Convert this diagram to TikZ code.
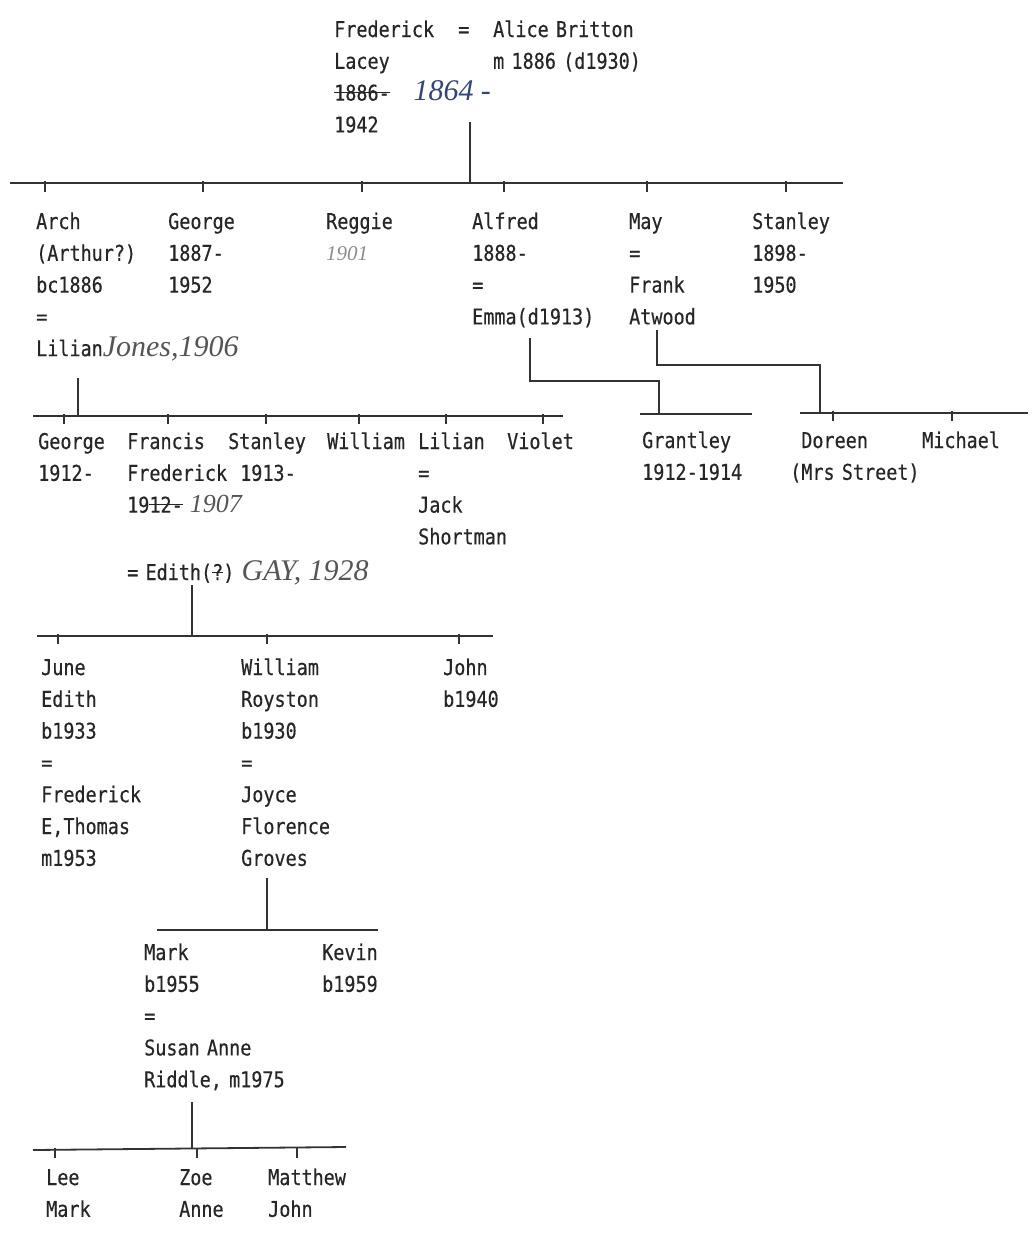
\documentclass[tikz,border=0pt]{standalone}
\usepackage{fontspec}
\usepackage{xcolor}
\usetikzlibrary{calc}

\newfontfamily\dotmono[FakeStretch=0.85, FakeBold=0.4]{DejaVu Sans Mono}
\newfontfamily\inkfont{Liberation Serif}
\definecolor{ink}{HTML}{555555}
\definecolor{blueink}{HTML}{34457A}
\newcommand{\handnote}[3][ink]{{\inkfont\itshape\fontsize{#2}{#2}\selectfont\color{#1}#3}}
\newsavebox\strikebox
\newcommand{\struck}[1]{\leavevmode\sbox\strikebox{#1}\rlap{\usebox\strikebox}\rule[0.6ex]{\wd\strikebox}{1.2pt}}

\begin{document}
\begin{tikzpicture}[x=1pt, y=-1pt,
    person/.style={anchor=base west, inner sep=0pt, align=left, text width=330pt,
      text=black!85, font={\dotmono\fontsize{21.7}{31.8}\selectfont}},
    famline/.style={line width=1.8pt, draw=black!80},
    notch/.style={line width=1.4pt, draw=black!80}]
  \useasboundingbox (0,0) rectangle (1033,1237);

  % Frederick and Alice
  \node[person] (frederick) at (334,37) {Frederick\\Lacey\\\struck{1886-}\hspace*{24pt}\handnote[blueink]{30}{1864 -}\\1942};
  \node[person] (wedsign) at (458,37) {=};
  \node[person] (alice) at (493,37) {Alice Britton\\m 1886 (d1930)};
  \coordinate (drop1) at (470,122);
  \coordinate (bus1w) at (10,183);
  \coordinate (bus1e) at (843,183);
  \draw[famline] (drop1) -- (drop1 |- bus1w);
  \draw[famline] (bus1w) -- (bus1e);
  \foreach \x in {45,203,362,504,647,786}
    \draw[notch] (\x,181) -- (\x,192);

  % their children
  \node[person] (arch) at (36,229) {Arch\\(Arthur?)\\bc1886\\=\\Lilian\handnote{30}{Jones,1906}};
  \node[person] (george) at (168,229) {George\\1887-\\1952};
  \node[person] (reggie) at (326,229) {Reggie\\\handnote[black!45]{21}{1901}};
  \node[person] (alfred) at (472,229) {Alfred\\1888-\\=\\Emma(d1913)};
  \node[person] (may) at (629,229) {May\\=\\Frank\\Atwood};
  \node[person] (stanley) at (752,229) {Stanley\\1898-\\1950};

  % Arch and Lilian's children
  \coordinate (drop2) at (78,378);
  \coordinate (bus2w) at (33,416);
  \coordinate (bus2e) at (563,416);
  \draw[famline] (drop2) -- (drop2 |- bus2w);
  \draw[famline] (bus2w) -- (bus2e);
  \foreach \x in {64,168,266,359,446,543}
    \draw[notch] (\x,414) -- (\x,424);
  \node[person] (georgeb) at (38,449) {George\\1912-};
  \node[person] (francis) at (127,449) {Francis\\Frederick\\19\struck{12-} \handnote{26}{1907}};
  \node[person] (stanleyb) at (228,449) {Stanley\\\hspace*{12pt}1913-};
  \node[person] (williamb) at (327,449) {William};
  \node[person] (lilian) at (418,449) {Lilian\\=\\Jack\\Shortman};
  \node[person] (violet) at (507,449) {Violet};
  \node[person] (edith) at (127,580) {= Edith(\struck{?}) \handnote{30}{GAY, 1928}};

  % Alfred and Emma
  \coordinate (drop3) at (530,338);
  \coordinate (elbow3) at (659,381);
  \draw[famline] (drop3) -- (drop3 |- elbow3) -- (elbow3) -- ++(0,33);
  \draw[famline] (640,414) -- (752,414);
  \node[person] (grantley) at (642,448) {Grantley\\1912-1914};

  % May and Frank
  \coordinate (drop4) at (657,330);
  \coordinate (elbow4) at (820,365);
  \draw[famline] (drop4) -- (drop4 |- elbow4) -- (elbow4) -- ++(0,48);
  \draw[famline] (800,413) -- (1028,413);
  \foreach \x in {833,952}
    \draw[notch] (\x,411) -- (\x,421);
  \node[person] (doreen) at (790,448) {\phantom{(}Doreen\\(Mrs Street)};
  \node[person] (michael) at (922,448) {Michael};

  % Francis and Edith's children
  \coordinate (drop5) at (192,585);
  \coordinate (bus5w) at (37,636);
  \coordinate (bus5e) at (493,636);
  \draw[famline] (drop5) -- (drop5 |- bus5w);
  \draw[famline] (bus5w) -- (bus5e);
  \foreach \x in {58,267,459}
    \draw[notch] (\x,634) -- (\x,644);
  \node[person] (june) at (41,675) {June\\Edith\\b1933\\=\\Frederick\\E,Thomas\\m1953};
  \node[person] (williamc) at (241,675) {William\\Royston\\b1930\\=\\Joyce\\Florence\\Groves};
  \node[person] (john) at (443,675) {John\\b1940};

  % William and Joyce's children
  \coordinate (drop6) at (267,878);
  \coordinate (bus6w) at (157,930);
  \coordinate (bus6e) at (378,930);
  \draw[famline] (drop6) -- (drop6 |- bus6w);
  \draw[famline] (bus6w) -- (bus6e);
  \node[person] (mark) at (144,960) {Mark\\b1955\\=\\Susan Anne\\Riddle, m1975};
  \node[person] (kevin) at (322,960) {Kevin\\b1959};

  % Mark and Susan's children
  \coordinate (drop7) at (192,1102);
  \coordinate (bus7w) at (33,1150);
  \coordinate (bus7e) at (346,1147);
  \draw[famline] (drop7) -- (192,1149);
  \draw[famline] (bus7w) -- (bus7e);
  \foreach \x in {55,197,297}
    \draw[notch] (\x,1148) -- (\x,1158);
  \node[person] (lee) at (46,1185) {Lee\\Mark};
  \node[person] (zoe) at (179,1185) {Zoe\\Anne};
  \node[person] (matthew) at (268,1185) {Matthew\\John};
\end{tikzpicture}
\end{document}
